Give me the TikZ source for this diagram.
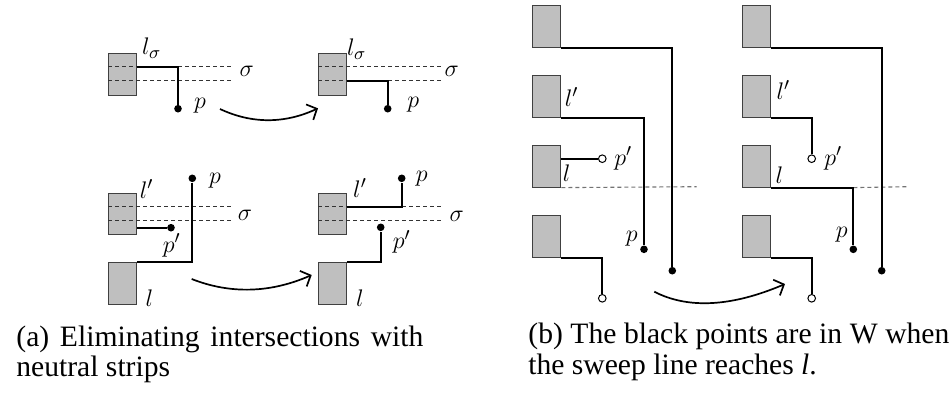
\documentclass[tikz,border=0pt]{standalone}
\usepackage{fontspec}
\newfontfamily\capfont{Liberation Serif}
\usetikzlibrary{arrows.meta}
\begin{document}
\begin{tikzpicture}[x=0.5pt,y=-0.5pt,
  blk/.style={draw=black!75, fill=black!25, line width=0.5pt, minimum width=14pt, minimum height=20.8pt, inner sep=0pt, anchor=north west},
  wire/.style={line width=0.9pt},
  strip/.style={line width=0.55pt, dash pattern=on 2pt off 1.5pt, draw=black!80},
  stripg/.style={line width=0.55pt, dash pattern=on 2pt off 1.5pt, draw=black!55},
  dotb/.style={circle, fill=black, inner sep=0pt, minimum size=3.8pt},
  doto/.style={circle, draw=black, fill=white, line width=0.5pt, inner sep=0pt, minimum size=3.8pt},
  lab/.style={inner sep=0pt, font=\fontsize{12.5}{14}\selectfont},
  captext/.style={inner sep=0pt, anchor=base west, font=\capfont\fontsize{14.8}{17}\selectfont},
  sweeparrow/.style={line width=0.85pt, -{Straight Barb[length=4pt,width=8.5pt]}}
]
\useasboundingbox (0,0) rectangle (950,392);

% level coordinates
\coordinate (s1) at (0,66.7);
\coordinate (s2) at (0,80.7);
\coordinate (t1) at (0,206.7);
\coordinate (t2) at (0,220.7);
\coordinate (t3) at (0,227.7);
\coordinate (yc) at (0,158.7);

% ===== (a) top-left =====
\node[blk] (A1) at (108,53) {};
\coordinate (eA1) at (232,66.7);
\coordinate (eA2) at (232,80.7);
\draw[strip] (A1.west |- s1) -- (eA1);
\draw[strip] (A1.west |- s2) -- (eA2);
\node[dotb] (pA) at (178,108.7) {};
\draw[wire] (A1.east |- s1) -| (pA);
\node[lab] (lsA) at (151.7,48.3) {$l_\sigma$};
\node[lab] (sgA) at (246.7,71.7) {$\sigma$};
\node[lab] (lpA) at (200,106) {$p$};

% ===== (a) top-right =====
\node[blk] (A2) at (318,53) {};
\coordinate (eB1) at (442,66.7);
\coordinate (eB2) at (442,80.7);
\draw[strip] (A2.west |- s1) -- (eB1);
\draw[strip] (A2.west |- s2) -- (eB2);
\node[dotb] (pB) at (387.7,108.7) {};
\draw[wire] (A2.east |- s2) -| (pB);
\node[lab] (lsB) at (356.7,49.3) {$l_\sigma$};
\node[lab] (sgB) at (451.7,71.7) {$\sigma$};
\node[lab] (lpB) at (413.3,105) {$p$};

% arrow top
\coordinate (arA0) at (220,109);
\coordinate (arA1) at (318,108.3);
\draw[sweeparrow] (arA0) .. controls (252,124) and (284.7,123.8) .. (arA1);

% ===== (a) bottom-left =====
\node[blk] (B1) at (108,192.7) {};
\node[blk] (B2) at (108,262.3) {};
\coordinate (eC1) at (232,206.7);
\coordinate (eC2) at (232,220.7);
\draw[strip] (B1.west |- t1) -- (eC1);
\draw[strip] (B1.west |- t2) -- (eC2);
\node[dotb] (ppC) at (171,227.7) {};
\node[dotb] (pC) at (192.3,178.3) {};
\draw[wire] (B1.east |- t3) -- (ppC);
\draw[wire] (B2.north east) -| (pC);
\node[lab] (lpC) at (146.7,189.3) {$l'$};
\node[lab] (sgC) at (245,215) {$\sigma$};
\node[lab] (ppCl) at (171.7,245) {$p'$};
\node[lab] (pCl) at (215,180.7) {$p$};
\node[lab] (lC) at (149.3,298.3) {$l$};

% arrow bottom
\coordinate (arB0) at (191.7,279);
\coordinate (arB1) at (311.7,275);
\draw[sweeparrow] (arB0) .. controls (230.6,294.3) and (270.6,293) .. (arB1);

% ===== (a) bottom-right =====
\node[blk] (B3) at (318,192.7) {};
\node[blk] (B4) at (318,262.3) {};
\coordinate (eD1) at (442,206.7);
\coordinate (eD2) at (442,220.7);
\draw[strip] (B3.west |- t1) -- (eD1);
\draw[strip] (B3.west |- t2) -- (eD2);
\node[dotb] (pD) at (401.7,178.3) {};
\node[dotb] (ppD) at (380.7,227.3) {};
\draw[wire] (B3.east |- t1) -| (pD);
\draw[wire] (B4.north east) -| (ppD);
\node[lab] (lpD) at (360,188.3) {$l'$};
\node[lab] (pDl) at (421.7,178.3) {$p$};
\node[lab] (sgD) at (456.7,216.7) {$\sigma$};
\node[lab] (ppDl) at (401.7,241.7) {$p'$};
\node[lab] (lD) at (360,298) {$l$};

% ===== (b) left =====
\node[blk] (C1) at (532.3,5) {};
\node[blk] (C2) at (532.3,75) {};
\node[blk] (C3) at (532.3,145) {};
\node[blk] (C4) at (532.3,215) {};
\node[dotb] (qC1) at (672.3,270.7) {};
\node[dotb] (qC2) at (644,249.3) {};
\node[doto] (qC3) at (602.3,158.7) {};
\node[doto] (qC4) at (602.3,298.3) {};
\coordinate (swC) at (696.7,186.7);
\draw[stripg] (C3.south east) -- (swC);
\draw[wire] (C1.south east) -| (qC1);
\draw[wire] (C2.south east) -| (qC2);
\draw[wire] (C3.east |- yc) -- (qC3);
\draw[wire] (C4.south east) -| (qC4);
\node[lab] (lpE) at (571.7,96.7) {$l'$};
\node[lab] (ppE) at (623.3,158.3) {$p'$};
\node[lab] (lE) at (566.7,173.3) {$l$};
\node[lab] (pE) at (631.7,238.3) {$p$};

% arrow (b)
\coordinate (arC0) at (654.3,291.7);
\coordinate (arC1) at (785,284);
\draw[sweeparrow] (arC0) .. controls (688.1,309.2) and (731.7,306.7) .. (arC1);

% ===== (b) right =====
\node[blk] (D1) at (742,5) {};
\node[blk] (D2) at (742,75) {};
\node[blk] (D3) at (742,145) {};
\node[blk] (D4) at (742,215) {};
\node[dotb] (qD1) at (881.7,270.7) {};
\node[doto] (qD2) at (811.7,158.7) {};
\node[dotb] (qD3) at (853.3,249.3) {};
\node[doto] (qD4) at (811.7,298.3) {};
\coordinate (swD) at (906.7,186.7);
\draw[stripg] (D3.south east -| qD3) -- (swD);
\draw[wire] (D1.south east) -| (qD1);
\draw[wire] (D2.south east) -| (qD2);
\draw[wire] (D3.south east) -| (qD3);
\draw[wire] (D4.south east) -| (qD4);
\node[lab] (lpF) at (783.3,90) {$l'$};
\node[lab] (ppF) at (833.3,158.3) {$p'$};
\node[lab] (lF) at (779.3,175) {$l$};
\node[lab] (pF) at (841.7,235) {$p$};

% ===== captions =====
\node[captext] (capa1) at (16,346) {\makebox[203.5pt][s]{(a) Eliminating intersections with}};
\node[captext] (capa2) at (16,376) {neutral strips};
\node[captext] (capb1) at (528,343) {\makebox[210.5pt][s]{(b) The black points are in W when}};
\node[captext] (capb2) at (528,374) {the sweep line reaches \textit{l}.};
\end{tikzpicture}
\end{document}
